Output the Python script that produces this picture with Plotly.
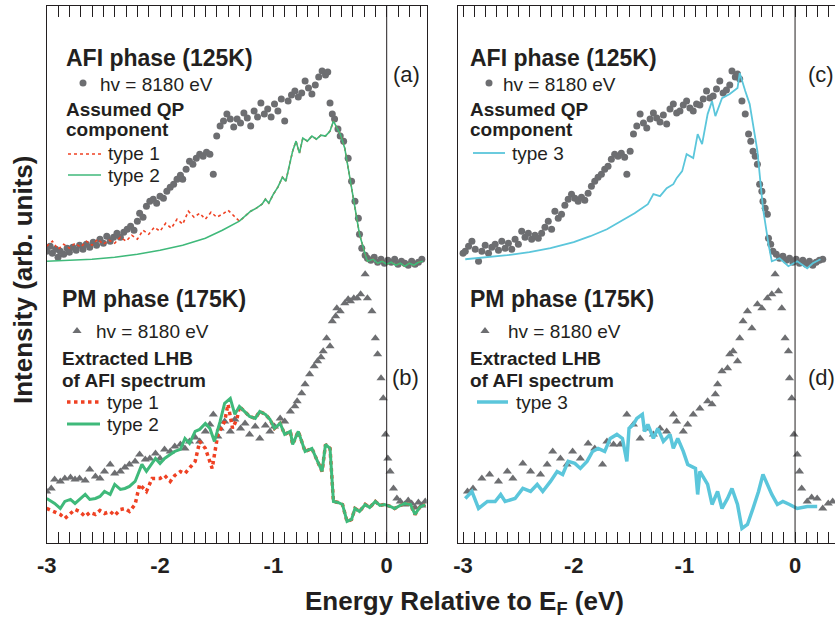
import plotly.graph_objects as go

W, H = 835, 623
FONT = "Liberation Sans, Arial, Helvetica, sans-serif"
GRAY = "#6d6e71"
RED = "#ef4123"
GREEN = "#3fb97a"
CYAN = "#5bc6db"
INK = "#231f20"

# ---------------- data (energy in eV, intensity in arb. units) ----------------
tick_vals = [-3, -2, -1, 0]
tick_text = ["-3", "-2", "-1", "0"]

# (a) AFI phase 125K, hv = 8180 eV
a_dots_E = [-3.00, -2.97, -2.95, -2.92, -2.90, -2.88, -2.85, -2.82, -2.80, -2.77,
            -2.74, -2.71, -2.68, -2.65, -2.62, -2.59, -2.56, -2.53, -2.50, -2.47,
            -2.44, -2.41, -2.38, -2.35, -2.32, -2.29, -2.26, -2.23, -2.20, -2.18,
            -2.15, -2.12, -2.09, -2.06, -2.03, -2.00, -1.97, -1.94, -1.91, -1.88,
            -1.85, -1.82, -1.80, -1.77, -1.74, -1.71, -1.68, -1.65, -1.62, -1.59,
            -1.56, -1.53, -1.50, -1.47, -1.44, -1.41, -1.38, -1.35, -1.32, -1.29,
            -1.26, -1.23, -1.20, -1.17, -1.14, -1.11, -1.08, -1.05, -1.02, -0.99,
            -0.96, -0.93, -0.90, -0.87, -0.84, -0.81, -0.78, -0.75, -0.72, -0.69,
            -0.66, -0.63, -0.60, -0.57, -0.54, -0.52, -0.50, -0.48, -0.46, -0.43,
            -0.41, -0.38, -0.34, -0.31, -0.28, -0.25, -0.24, -0.22, -0.19, -0.17,
            -0.14, -0.11, -0.08, -0.05, -0.02, 0.01, 0.04, 0.07, 0.10, 0.13,
            0.16, 0.19, 0.22, 0.25, 0.28, 0.31]
a_dots_I = [100, 125, 90, 110, 70, 100, 85, 115, 95, 120,
            105, 130, 110, 135, 120, 145, 130, 160, 140, 175,
            150, 170, 190, 170, 195, 210, 225, 205, 250, 290,
            270, 325, 350, 360, 340, 375, 365, 400, 420, 435,
            460, 480, 460, 510, 550, 535, 565, 585, 575, 595,
            585, 485, 675, 725, 750, 785, 760, 720, 760, 740,
            790, 765, 725, 800, 770, 840, 785, 810, 770, 835,
            800, 860, 750, 850, 880, 900, 870, 890, 950, 915,
            885, 930, 970, 1000, 980, 995, 840, 785, 760, 710,
            675, 650, 565, 450, 350, 265, 185, 115, 80, 65,
            55, 70, 45, 60, 40, 55, 45, 60, 35, 50,
            40, 30, 50, 35, 45, 60]

# assumed QP component, type 2 (also the high-energy part of type 1)
a_type2_E = [-3.00, -2.80, -2.60, -2.40, -2.20, -2.00, -1.80, -1.60, -1.45, -1.30,
             -1.23, -1.20, -1.15, -1.10, -1.07, -1.04, -1.00, -0.96, -0.92, -0.89,
             -0.86, -0.83, -0.80, -0.77, -0.74, -0.70, -0.66, -0.62, -0.58, -0.54,
             -0.50, -0.47, -0.41, -0.37, -0.32, -0.28, -0.24, -0.19, -0.17, -0.12,
             -0.08, -0.04, 0.00, 0.04, 0.08, 0.12, 0.16, 0.20, 0.24, 0.28, 0.32]
a_type2_I = [50, 55, 60, 70, 85, 105, 130, 165, 205, 250,
             285, 300, 315, 335, 360, 340, 385, 420, 470, 450,
             525, 600, 650, 590, 665, 650, 675, 660, 680, 675,
             700, 750, 685, 615, 450, 315, 185, 85, 50, 60,
             40, 50, 35, 45, 30, 40, 25, 40, 30, 45, 50]

# type 1, low-energy part (joins type 2 above -1.3 eV)
a_type1_E = [-3.00, -2.95, -2.90, -2.85, -2.80, -2.75, -2.70, -2.65, -2.60, -2.55,
             -2.50, -2.45, -2.40, -2.35, -2.30, -2.25, -2.20, -2.15, -2.10, -2.05,
             -2.00, -1.95, -1.90, -1.85, -1.80, -1.75, -1.70, -1.65, -1.60, -1.55,
             -1.50, -1.45, -1.40, -1.35]
a_type1_I = [125, 150, 110, 135, 115, 140, 120, 150, 130, 160,
             135, 155, 140, 170, 150, 180, 160, 205, 185, 220,
             200, 240, 215, 260, 235, 300, 270, 290, 260, 295,
             270, 285, 305, 275]

# (b) PM phase 175K, hv = 8180 eV
b_tri_E = [-3.00, -2.96, -2.93, -2.88, -2.84, -2.79, -2.75, -2.71, -2.66, -2.62,
           -2.57, -2.53, -2.49, -2.44, -2.40, -2.35, -2.31, -2.27, -2.22, -2.18,
           -2.13, -2.09, -2.04, -2.00, -1.96, -1.91, -1.87, -1.82, -1.78, -1.74,
           -1.69, -1.65, -1.60, -1.56, -1.53, -1.49, -1.47, -1.43, -1.38, -1.34,
           -1.29, -1.25, -1.21, -1.16, -1.12, -1.07, -1.03, -0.99, -0.94, -0.90,
           -0.85, -0.81, -0.79, -0.75, -0.72, -0.68, -0.64, -0.61, -0.58, -0.56,
           -0.53, -0.50, -0.48, -0.45, -0.44, -0.41, -0.37, -0.34, -0.32, -0.29,
           -0.26, -0.23, -0.19, -0.17, -0.13, -0.10, -0.08, -0.05, -0.03, -0.01,
           0.01, 0.03, 0.06, 0.09, 0.12, 0.16, 0.19, 0.22, 0.25, 0.28,
           0.31, 0.34]
b_tri_I = [150, 165, 210, 200, 215, 220, 210, 215, 205, 260,
           225, 215, 250, 285, 240, 250, 270, 285, 300, 335,
           310, 315, 340, 315, 360, 350, 375, 385, 365, 400,
           420, 400, 450, 485, 535, 425, 465, 500, 450, 510,
           465, 490, 435, 475, 415, 480, 450, 475, 515, 500,
           550, 575, 600, 640, 685, 735, 775, 800, 820, 850,
           915, 875, 1000, 1025, 1065, 1050, 1090, 1110, 1100, 1115,
           1115, 1135, 1235, 1115, 1050, 915, 835, 715, 615, 435,
           315, 250, 165, 115, 100, 85, 105, 90, 70, 95,
           80, 100]

# extracted LHB, type 2 (also the high-energy part of type 1)
b_type2_E = [-3.00, -2.96, -2.93, -2.88, -2.84, -2.79, -2.75, -2.66, -2.62, -2.57,
             -2.53, -2.49, -2.44, -2.40, -2.35, -2.31, -2.27, -2.22, -2.16, -2.12,
             -2.04, -2.00, -1.96, -1.91, -1.87, -1.82, -1.78, -1.74, -1.69, -1.65,
             -1.60, -1.56, -1.52, -1.47, -1.43, -1.38, -1.34, -1.30, -1.25, -1.21,
             -1.16, -1.12, -1.07, -1.03, -0.99, -0.94, -0.90, -0.85, -0.83, -0.78,
             -0.72, -0.66, -0.61, -0.57, -0.54, -0.50, -0.47, -0.43, -0.39, -0.35,
             -0.31, -0.28, -0.24, -0.19, -0.15, -0.10, -0.06, -0.02, 0.03, 0.07,
             0.12, 0.16, 0.21, 0.25, 0.29, 0.34]
b_type2_I = [115, 100, 90, 65, 100, 110, 90, 135, 110, 115,
             125, 150, 135, 185, 160, 165, 175, 200, 285, 250,
             315, 290, 315, 335, 350, 360, 415, 390, 450, 460,
             490, 465, 400, 500, 590, 615, 535, 575, 550, 525,
             515, 550, 535, 510, 465, 490, 435, 450, 385, 450,
             350, 365, 300, 250, 385, 365, 100, 95, 85, 0,
             10, 65, 50, 85, 70, 100, 80, 85, 75, 65,
             80, 90, 85, 35, 70, 85]

b_type1_E = [-3.00, -2.93, -2.88, -2.84, -2.79, -2.75, -2.71, -2.66, -2.62, -2.57,
             -2.53, -2.49, -2.44, -2.40, -2.35, -2.31, -2.27, -2.22, -2.18, -2.12,
             -2.07, -2.00, -1.96, -1.91, -1.87, -1.82, -1.78, -1.74, -1.69, -1.65,
             -1.60, -1.54, -1.49, -1.43, -1.40, -1.36, -1.32]
b_type1_I = [65, 50, 35, 15, 40, 60, 50, 25, 45, 35,
             55, 40, 50, 30, 60, 65, 50, 85, 185, 150,
             215, 215, 230, 200, 230, 250, 240, 265, 300, 400,
             365, 265, 435, 500, 585, 465, 515]

# (c) AFI phase 125K, hv = 8180 eV
c_dots_E = [-3.00, -2.98, -2.95, -2.92, -2.89, -2.86, -2.83, -2.80, -2.77, -2.74,
            -2.71, -2.68, -2.65, -2.62, -2.59, -2.56, -2.53, -2.50, -2.47, -2.44,
            -2.41, -2.38, -2.35, -2.32, -2.29, -2.26, -2.23, -2.20, -2.17, -2.14,
            -2.11, -2.08, -2.05, -2.02, -1.99, -1.96, -1.93, -1.90, -1.87, -1.84,
            -1.81, -1.78, -1.75, -1.72, -1.69, -1.66, -1.63, -1.60, -1.57, -1.54,
            -1.52, -1.49, -1.46, -1.43, -1.40, -1.37, -1.34, -1.31, -1.28, -1.25,
            -1.22, -1.19, -1.16, -1.13, -1.10, -1.07, -1.04, -1.01, -0.98, -0.95,
            -0.92, -0.89, -0.86, -0.83, -0.80, -0.77, -0.74, -0.71, -0.68, -0.65,
            -0.62, -0.59, -0.57, -0.54, -0.52, -0.50, -0.48, -0.45, -0.42, -0.40,
            -0.38, -0.36, -0.34, -0.32, -0.30, -0.29, -0.27, -0.25, -0.24, -0.22,
            -0.20, -0.17, -0.14, -0.11, -0.08, -0.05, -0.02, 0.01, 0.04, 0.07,
            0.10, 0.13, 0.16, 0.19, 0.22, 0.25]
c_dots_I = [90, 100, 125, 150, 110, 50, 100, 130, 90, 120,
            135, 105, 150, 115, 140, 110, 160, 135, 200, 170,
            190, 160, 180, 165, 190, 220, 250, 210, 300, 265,
            285, 330, 360, 385, 365, 350, 370, 355, 390, 425,
            450, 470, 485, 510, 525, 560, 585, 575, 590, 570,
            485, 600, 685, 725, 785, 740, 715, 760, 790, 765,
            745, 780, 735, 810, 835, 790, 800, 830, 850, 815,
            800, 835, 830, 860, 900, 865, 875, 910, 950, 890,
            905, 930, 1000, 970, 985, 960, 850, 785, 685, 650,
            600, 575, 535, 435, 400, 350, 315, 285, 165, 135,
            100, 85, 65, 75, 55, 65, 45, 60, 40, 55,
            35, 50, 30, 45, 55, 60]

# assumed QP component, type 3
c_type3_E = [-2.98, -2.80, -2.60, -2.40, -2.21, -2.00, -1.85, -1.70, -1.58, -1.45,
             -1.33, -1.28, -1.22, -1.16, -1.10, -1.07, -1.02, -0.98, -0.92, -0.88,
             -0.84, -0.79, -0.75, -0.72, -0.66, -0.59, -0.52, -0.50, -0.45, -0.41,
             -0.34, -0.29, -0.24, -0.21, -0.14, -0.06, 0.02, 0.11, 0.16, 0.23]
c_type3_I = [60, 70, 80, 95, 115, 145, 175, 210, 250, 290,
             335, 385, 375, 415, 435, 465, 500, 585, 565, 685,
             635, 785, 850, 775, 865, 885, 915, 990, 900, 835,
             600, 315, 135, 50, 65, 25, 50, 15, 40, 60]

# (d) PM phase 175K, hv = 8180 eV
d_tri_E = [-2.96, -2.91, -2.83, -2.76, -2.68, -2.60, -2.55, -2.46, -2.39, -2.30,
           -2.24, -2.19, -2.12, -2.06, -2.01, -1.94, -1.87, -1.81, -1.74, -1.70,
           -1.64, -1.58, -1.52, -1.46, -1.40, -1.34, -1.28, -1.22, -1.16, -1.10,
           -1.07, -1.01, -0.97, -0.92, -0.86, -0.79, -0.75, -0.72, -0.70, -0.66,
           -0.61, -0.59, -0.56, -0.52, -0.50, -0.47, -0.43, -0.39, -0.34, -0.30,
           -0.25, -0.21, -0.18, -0.15, -0.12, -0.09, -0.06, -0.05, -0.03, -0.01,
           0.02, 0.04, 0.06, 0.11, 0.15, 0.20, 0.25, 0.30, 0.34]
d_tri_I = [150, 165, 215, 235, 200, 250, 215, 290, 250, 235,
           285, 350, 315, 285, 350, 315, 390, 365, 285, 400,
           385, 385, 535, 485, 415, 465, 435, 465, 450, 535,
           500, 450, 485, 535, 565, 600, 585, 635, 685, 750,
           765, 835, 850, 800, 915, 1000, 1050, 965, 1085, 1065,
           1115, 1135, 1235, 1150, 1065, 915, 850, 715, 615, 435,
           335, 250, 165, 100, 120, 115, 65, 90, 100]

# extracted LHB, type 3
d_type3_E = [-2.98, -2.92, -2.86, -2.78, -2.71, -2.66, -2.62, -2.53, -2.46, -2.39,
             -2.33, -2.28, -2.21, -2.15, -2.10, -2.05, -1.99, -1.94, -1.88, -1.83,
             -1.78, -1.72, -1.67, -1.61, -1.56, -1.52, -1.50, -1.46, -1.43, -1.38,
             -1.36, -1.33, -1.28, -1.24, -1.19, -1.13, -1.10, -1.06, -1.01, -0.97,
             -0.90, -0.88, -0.86, -0.79, -0.75, -0.70, -0.66, -0.61, -0.57, -0.52,
             -0.48, -0.43, -0.38, -0.33, -0.29, -0.25, -0.21, -0.16, -0.11, -0.05,
             0.02, 0.11, 0.20]
d_type3_I = [115, 150, 65, 100, 100, 135, 100, 115, 165, 150,
             185, 150, 200, 250, 235, 300, 290, 265, 300, 350,
             365, 350, 415, 435, 415, 300, 465, 485, 515, 535,
             450, 485, 415, 465, 400, 435, 365, 415, 350, 285,
             265, 135, 250, 185, 85, 150, 65, 115, 165, 85,
             -35, -15, 65, 150, 235, 185, 135, 85, 100, 85,
             65, 75, 75]

# type 1 curves = own low-energy part + shared part of type 2 above -1.3 eV
a_t1_E = a_type1_E + [e for e in a_type2_E if e >= -1.30]
a_t1_I = a_type1_I + [v for e, v in zip(a_type2_E, a_type2_I) if e >= -1.30]
b_t1_E = b_type1_E + [e for e in b_type2_E if e >= -1.30]
b_t1_I = b_type1_I + [v for e, v in zip(b_type2_E, b_type2_I) if e >= -1.30]

# ---------------- figure ----------------
fig = go.Figure()


def add_line(x, y, xa, ya, color, width, dash="solid"):
    fig.add_trace(go.Scatter(x=x, y=y, mode="lines", xaxis=xa, yaxis=ya,
                             line=dict(color=color, width=width, dash=dash),
                             showlegend=False, hoverinfo="skip"))


def add_marks(x, y, xa, ya, symbol, size):
    fig.add_trace(go.Scatter(x=x, y=y, mode="markers", xaxis=xa, yaxis=ya,
                             marker=dict(symbol=symbol, size=size, color=GRAY,
                                         line=dict(width=0)),
                             showlegend=False, hoverinfo="skip"))


# panel (a)
add_marks(a_dots_E, a_dots_I, "x", "y2", "circle", 7)
add_line(a_t1_E, a_t1_I, "x", "y2", RED, 1.6, "dot")
add_line(a_type2_E, a_type2_I, "x", "y2", GREEN, 1.6)
# panel (b)
add_marks(b_tri_E, b_tri_I, "x", "y", "triangle-up", 8)
add_line(b_t1_E, b_t1_I, "x", "y", RED, 3.5, "dot")
add_line(b_type2_E, b_type2_I, "x", "y", GREEN, 3)
# panel (c)
add_marks(c_dots_E, c_dots_I, "x2", "y4", "circle", 7)
add_line(c_type3_E, c_type3_I, "x2", "y4", CYAN, 1.8)
# panel (d)
add_marks(d_tri_E, d_tri_I, "x2", "y3", "triangle-up", 8)
add_line(d_type3_E, d_type3_I, "x2", "y3", CYAN, 3.5)


# legend keys on a pixel-space overlay axis
def key_line(x0, x1, y, color, width, dash="solid"):
    fig.add_trace(go.Scatter(x=[x0, x1], y=[y, y], mode="lines", xaxis="x3", yaxis="y5",
                             line=dict(color=color, width=width, dash=dash),
                             showlegend=False, hoverinfo="skip", cliponaxis=False))


def key_mark(x, y, symbol, size):
    fig.add_trace(go.Scatter(x=[x], y=[y], mode="markers", xaxis="x3", yaxis="y5",
                             marker=dict(symbol=symbol, size=size, color=GRAY),
                             showlegend=False, hoverinfo="skip", cliponaxis=False))


key_mark(83, 83, "circle", 7)
key_line(68, 101, 154, RED, 1.6, "dot")
key_line(68, 101, 175, GREEN, 1.6)
key_mark(77, 331, "triangle-up", 8)
key_line(67, 100, 402, RED, 3.5, "dot")
key_line(67, 100, 424, GREEN, 3)
key_mark(489, 83, "circle", 7)
key_line(473, 505, 153, CYAN, 1.8)
key_mark(485, 331, "triangle-up", 8)
key_line(477, 508, 402, CYAN, 3.5)

annotations = []


def ann(text, px, py, size, bold=False, xanchor="left", angle=0):
    annotations.append(dict(text=text, x=px / W, y=1 - py / H, xref="paper", yref="paper",
                            xanchor=xanchor, yanchor="middle", showarrow=False,
                            textangle=angle, borderpad=0,
                            font=dict(family=FONT, size=size, color=INK,
                                      weight="bold" if bold else "normal")))


for x0 in (65, 469):
    ann("AFI phase (125K)", x0, 58, 23, True)
    ann("Assumed QP", x0, 109, 19, True)
    ann("component", x0, 129, 19, True)
ann("hv = 8180 eV", 99, 84, 19)
ann("hv = 8180 eV", 502, 84, 19)
ann("type 1", 107, 153, 19)
ann("type 2", 107, 175, 19)
ann("type 3", 511, 153, 19)

for x0 in (61, 469):
    ann("PM phase (175K)", x0, 299, 23, True)
    ann("Extracted LHB", x0, 358, 19, True)
    ann("of AFI spectrum", x0, 380, 19, True)
ann("hv = 8180 eV", 95, 331, 19)
ann("hv = 8180 eV", 507, 331, 19)
ann("type 1", 106, 402, 19)
ann("type 2", 106, 424, 19)
ann("type 3", 515, 402, 19)

ann("(a)", 406, 74, 22, xanchor="center")
ann("(b)", 405, 377, 22, xanchor="center")
ann("(c)", 807, 74, 22)
ann("(d)", 807, 377, 22)

ann("Intensity (arb. units)", 23, 280, 26, True, xanchor="center", angle=-90)
ann("Energy Relative to E<sub>F</sub> (eV)", 464, 602, 26, True, xanchor="center")

Y0, Y1 = 1 - 542.5 / H, 1 - 6 / H
common_x = dict(showline=True, linecolor=INK, linewidth=1, mirror="allticks",
                ticks="inside", ticklen=11, tickwidth=1, tickcolor=INK,
                tickmode="array", tickvals=tick_vals, ticktext=tick_text,
                minor=dict(ticks="inside", ticklen=6, tickwidth=1, tickcolor=INK,
                           tickmode="linear", tick0=0, dtick=0.1, showgrid=False),
                showgrid=False, zeroline=False, automargin=False,
                tickfont=dict(family=FONT, size=22, color=INK, weight="bold"),
                ticklabelstandoff=3)
common_y = dict(showline=True, linecolor=INK, linewidth=1, ticks="",
                showticklabels=False, showgrid=False, zeroline=False,
                automargin=False, domain=[Y0, Y1])

fig.update_layout(
    width=W, height=H,
    margin=dict(l=0, r=0, t=0, b=0, pad=0, autoexpand=False),
    paper_bgcolor="white", plot_bgcolor="rgba(0,0,0,0)", showlegend=False,
    xaxis=dict(domain=[46.7 / W, 426.7 / W], range=[-3.0, 0.353], anchor="y", **common_x),
    yaxis=dict(range=[-105, 2575], anchor="x", mirror=True, **common_y),
    yaxis2=dict(range=[-1355, 1325], overlaying="y", anchor="x", visible=False,
                automargin=False),
    xaxis2=dict(domain=[458.3 / W, 1.0], range=[-3.043, 0.361], anchor="y3", **common_x),
    yaxis3=dict(range=[-105, 2575], anchor="x2", mirror=False, **common_y),
    yaxis4=dict(range=[-1355, 1325], overlaying="y3", anchor="x2", visible=False,
                automargin=False),
    xaxis3=dict(domain=[0, 1], range=[0, W], anchor="y5", visible=False, automargin=False),
    yaxis5=dict(domain=[0, 1], range=[H, 0], anchor="x3", visible=False, automargin=False),
    shapes=[dict(type="line", xref="x", yref="y domain", x0=0, x1=0, y0=0, y1=1,
                 line=dict(color=INK, width=1)),
            dict(type="line", xref="x2", yref="y3 domain", x0=0, x1=0, y0=0, y1=1,
                 line=dict(color=INK, width=1))],
    annotations=annotations,
)

# the page's default 8px body margin would shift the figure; remove it
fig.write_html("out.html", config={"displayModeBar": False},
               post_script="document.body.style.margin='0px';document.body.style.overflow='hidden';")
